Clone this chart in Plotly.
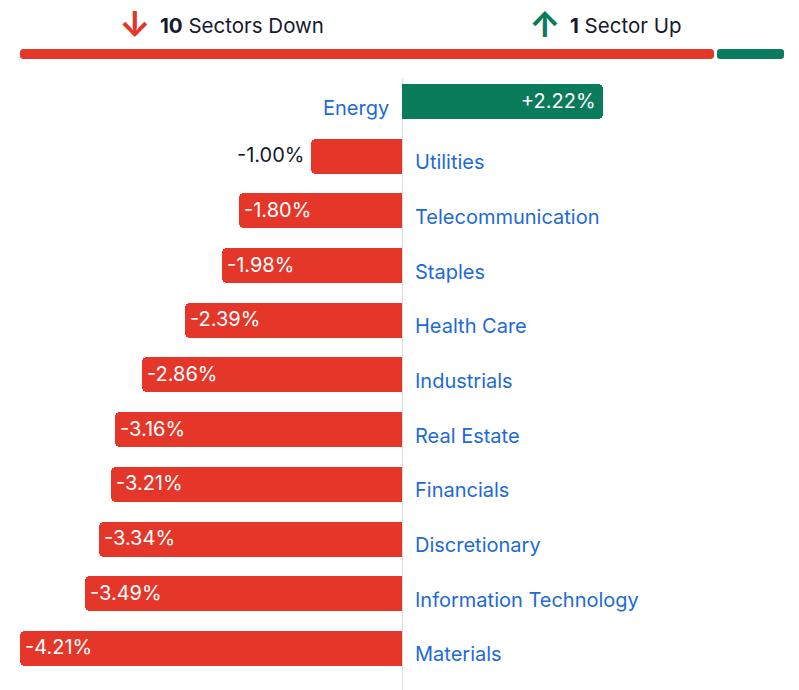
import plotly.graph_objects as go

sectors = ["Energy", "Utilities", "Telecommunication", "Staples", "Health Care",
           "Industrials", "Real Estate", "Financials", "Discretionary",
           "Information Technology", "Materials"]
changes = [2.22, -1.00, -1.80, -1.98, -2.39, -2.86, -3.16, -3.21, -3.34, -3.49, -4.21]
count_down = 10
count_up = 1
header_down = "Sectors Down"
header_up = "Sector Up"

RED = "#E4372A"
GREEN = "#0A7B5B"
BLUE = "#1D6AD6"
DARK = "#151A2D"
FONT = "Inter"
W, H = 799, 690

fig = go.Figure()

colors = [GREEN if v > 0 else RED for v in changes]
fig.add_trace(go.Bar(
    x=changes, y=sectors, orientation="h",
    marker=dict(color=colors, cornerradius=5, line=dict(width=0)),
    width=0.64, hoverinfo="skip", showlegend=False,
    xaxis="x", yaxis="y",
))

# top summary bar
fig.add_trace(go.Bar(
    x=[-count_down], base=[count_down], y=[0], orientation="h",
    marker=dict(color=RED, cornerradius=5, line=dict(color="white", width=3)),
    width=1, hoverinfo="skip", showlegend=False, xaxis="x2", yaxis="y2",
))
fig.add_trace(go.Bar(
    x=[count_up], base=[count_down], y=[0], orientation="h",
    marker=dict(color=GREEN, cornerradius=5, line=dict(color="white", width=3)),
    width=1, hoverinfo="skip", showlegend=False, xaxis="x2", yaxis="y2",
))

LBL = 20
ann = []
for s, v in zip(sectors, changes):
    if v > 0:
        ann.append(dict(x=0, y=s, xref="x", yref="y", text=s, showarrow=False,
                        xanchor="right", xshift=-11, yshift=-6,
                        font=dict(family=FONT, size=LBL, color=BLUE)))
        ann.append(dict(x=v, y=s, xref="x", yref="y", text=f"+{v:.2f}%", showarrow=False,
                        xanchor="right", xshift=-5, yshift=1,
                        font=dict(family=FONT, size=LBL, color="white")))
    else:
        ann.append(dict(x=0, y=s, xref="x", yref="y", text=s, showarrow=False,
                        xanchor="left", xshift=11, yshift=-6,
                        font=dict(family=FONT, size=LBL, color=BLUE)))
        if abs(v) < 1.5:
            ann.append(dict(x=v, y=s, xref="x", yref="y", text=f"{v:.2f}%", showarrow=False,
                            xanchor="right", xshift=-5, yshift=1,
                            font=dict(family=FONT, size=LBL, color=DARK)))
        else:
            ann.append(dict(x=v, y=s, xref="x", yref="y", text=f"{v:.2f}%", showarrow=False,
                            xanchor="left", xshift=3, yshift=1,
                            font=dict(family=FONT, size=LBL, color="white")))

# header
def py(p):
    return 1 - p / H

ann.append(dict(x=135 / W, y=py(24), xref="paper", yref="paper", text="<b>↓</b>",
                showarrow=False, xanchor="center", yanchor="middle",
                font=dict(family=FONT, size=35, color=RED)))
ann.append(dict(x=158 / W, y=py(25), xref="paper", yref="paper",
                text=f"<b>{count_down}</b> {header_down}",
                showarrow=False, xanchor="left", yanchor="middle",
                font=dict(family=FONT, size=20.5, color=DARK)))
ann.append(dict(x=545 / W, y=py(24), xref="paper", yref="paper", text="<b>↑</b>",
                showarrow=False, xanchor="center", yanchor="middle",
                font=dict(family=FONT, size=35, color=GREEN)))
ann.append(dict(x=568 / W, y=py(25), xref="paper", yref="paper",
                text=f"<b>{count_up}</b> {header_up}",
                showarrow=False, xanchor="left", yanchor="middle",
                font=dict(family=FONT, size=20.5, color=DARK)))

fig.update_layout(
    width=W, height=H, margin=dict(l=0, r=0, t=0, b=0),
    paper_bgcolor="white", plot_bgcolor="white",
    barmode="overlay", bargap=0,
    annotations=ann,
    xaxis=dict(domain=[20 / W, 784 / W], range=[-4.21, 4.21], showgrid=False,
               showticklabels=False, zeroline=True, zerolinecolor="#DCDCDC",
               zerolinewidth=1, fixedrange=True),
    yaxis=dict(domain=[0, py(78)], range=[10.76, -0.43], showgrid=False,
               showticklabels=False, zeroline=False, fixedrange=True),
    xaxis2=dict(domain=[19 / W, 786 / W], range=[0, count_down + count_up],
                showgrid=False, showticklabels=False, zeroline=False, fixedrange=True,
                anchor="y2"),
    yaxis2=dict(domain=[py(61), py(48)], range=[-0.5, 0.5], showgrid=False,
                showticklabels=False, zeroline=False, fixedrange=True, anchor="x2"),
    font=dict(family=FONT),
)

fig.write_html("out.html")
